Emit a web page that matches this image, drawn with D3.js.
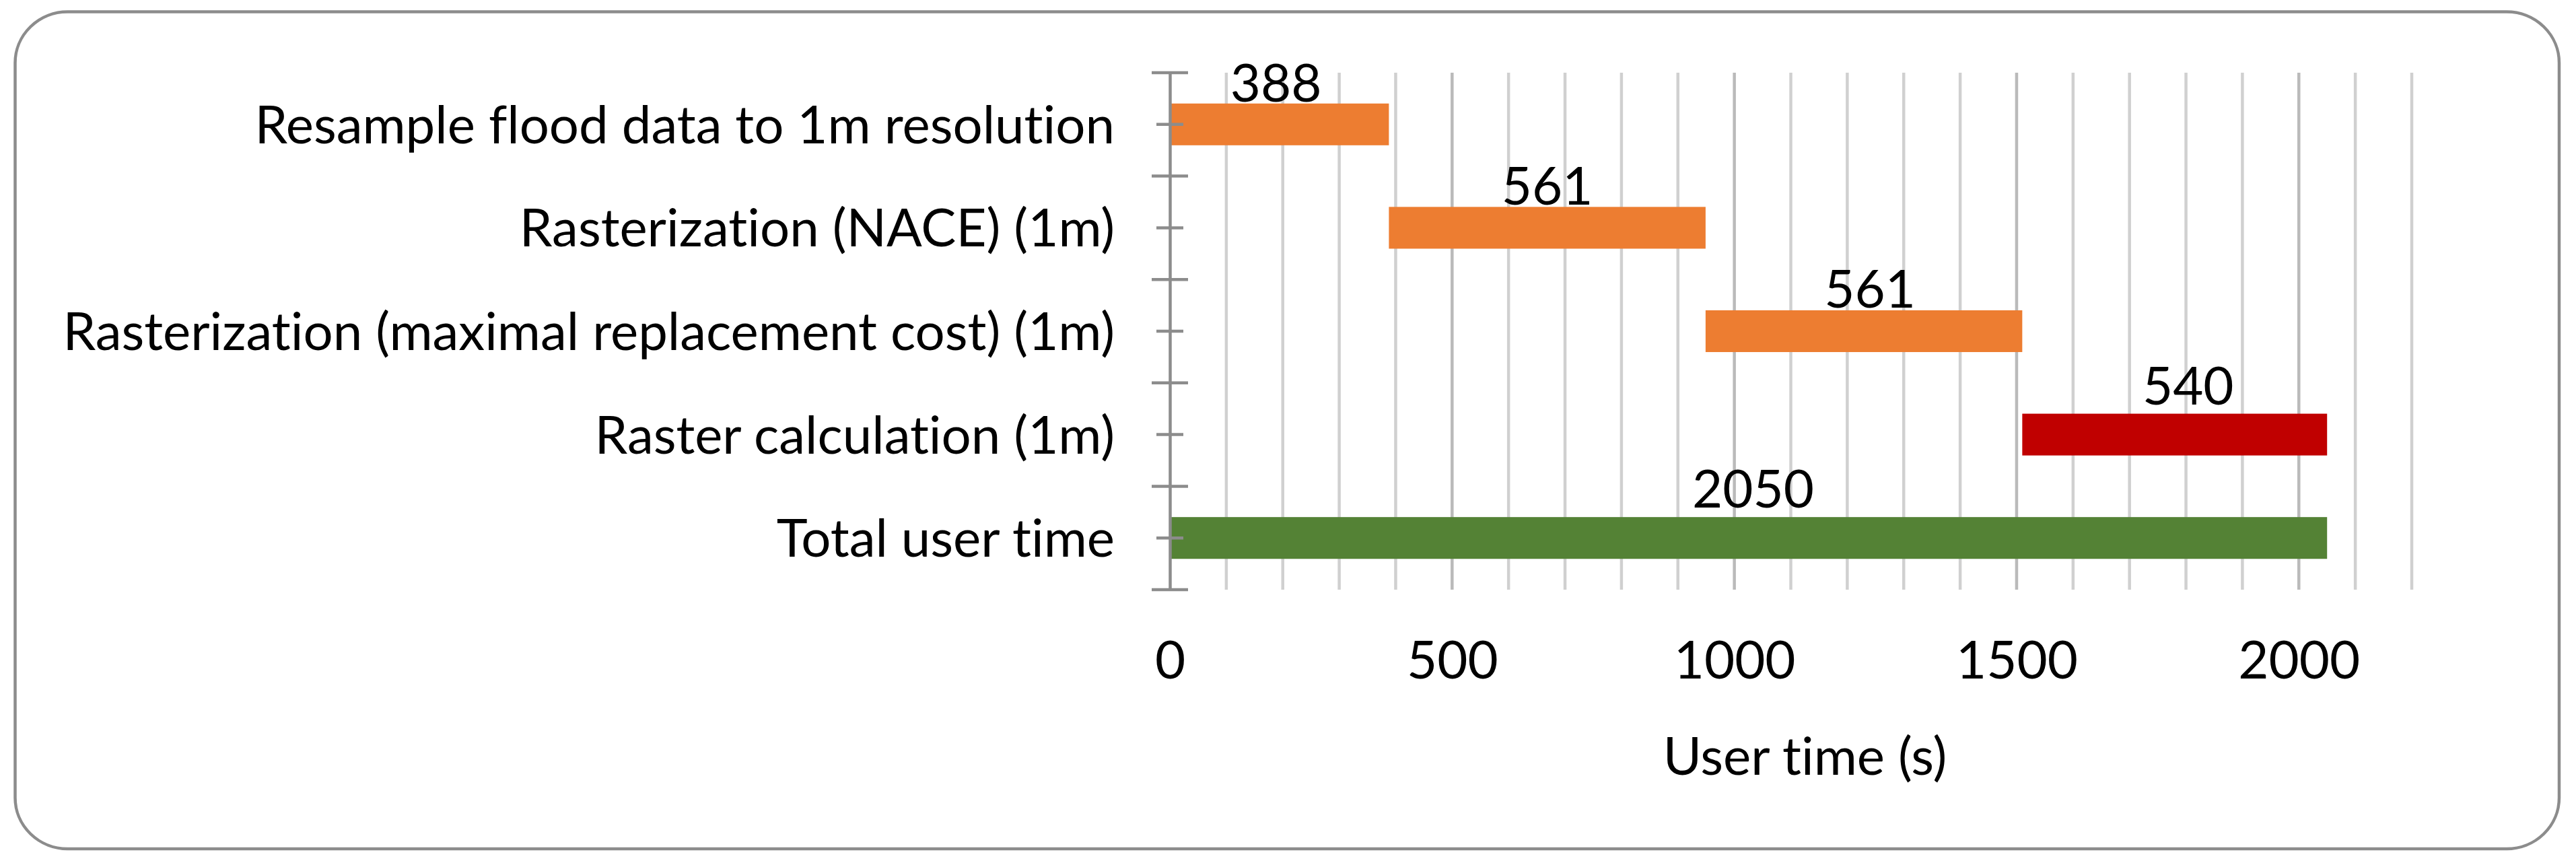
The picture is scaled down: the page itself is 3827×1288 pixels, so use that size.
<!DOCTYPE html>
<html>
<head>
<meta charset="utf-8">
<script src="https://cdn.jsdelivr.net/npm/d3@7"></script>
<style>
  html, body { margin: 0; padding: 0; background: #ffffff; }
  text { font-family: Lato, "Open Sans", sans-serif; fill: #000000; font-variant-ligatures: none; }
</style>
</head>
<body>
<div id="container"></div>
<script>
"use strict";

// Tasks (top to bottom), where each starts and how long it took (s).
const categories = [
  "Resample flood data to 1m resolution",
  "Rasterization (NACE) (1m)",
  "Rasterization (maximal replacement cost) (1m)",
  "Raster calculation (1m)",
  "Total user time",
];
const startTimes = [0, 388, 949, 1510, 0];
const durations = [388, 561, 561, 540, 2050];
const barColors = ["#ED7D31", "#ED7D31", "#ED7D31", "#C00000", "#548235"];
const xTickLabels = [0, 500, 1000, 1500, 2000];
const xMax = 2200;
const gridStep = 100;

// Label placement tweaks, as in the original (dx, lift above bar).
const labelDx = [-5, 0, 9, 20, 7];
const labelLift = [3, 3, 4, 14, 14];

const width = 3827;
const height = 1288;
const fontSize = 78;
const margin = { top: 108, right: 244, bottom: 412, left: 1738 };
const plotBottom = height - margin.bottom;

const svg = d3.create("svg").attr("width", width).attr("height", height);
d3.select("#container").append(() => svg.node());

// Chart area border with rounded corners.
svg
  .append("rect")
  .attr("x", 22.5)
  .attr("y", 17.5)
  .attr("width", 3802 - 22.5)
  .attr("height", 1261 - 17.5)
  .attr("rx", 78)
  .attr("ry", 76)
  .attr("fill", "#ffffff")
  .attr("stroke", "#8c8c8c")
  .attr("stroke-width", 4.5);

const x = d3.scaleLinear().domain([0, xMax]).range([margin.left, width - margin.right]);
const y = d3.scaleBand().domain(categories).range([margin.top, plotBottom]);

// Vertical gridlines every 100 s, a bit darker on the labelled values.
svg
  .append("g")
  .selectAll("line")
  .data(d3.range(gridStep, xMax + 1, gridStep))
  .join("line")
  .attr("x1", (d) => x(d))
  .attr("x2", (d) => x(d))
  .attr("y1", margin.top)
  .attr("y2", plotBottom)
  .attr("stroke", (d) => (xTickLabels.includes(d) ? "#bababa" : "#d0d0d0"))
  .attr("stroke-width", 4.5);

// Bars: a visible segment from start to start + duration (Gantt style).
const barHeight = y.bandwidth() * 0.404;
const rows = categories.map((c, i) => ({
  key: c,
  start: startTimes[i],
  value: durations[i],
  color: barColors[i],
  i,
}));

svg
  .append("g")
  .selectAll("rect")
  .data(rows)
  .join("rect")
  .attr("x", (d) => x(d.start))
  .attr("y", (d) => y(d.key) + (y.bandwidth() - barHeight) / 2)
  .attr("width", (d) => x(d.start + d.value) - x(d.start))
  .attr("height", barHeight)
  .attr("fill", (d) => d.color);

// Value labels above the bars.
svg
  .append("g")
  .selectAll("text")
  .data(rows)
  .join("text")
  .attr("x", (d) => x(d.start + d.value / 2) + labelDx[d.i])
  .attr("y", (d) => y(d.key) + (y.bandwidth() - barHeight) / 2 - labelLift[d.i])
  .attr("text-anchor", "middle")
  .style("font-size", `${fontSize}px`)
  .text((d) => d.value);

// Category axis: line, cross ticks at band edges and at band centres.
const yAxis = svg
  .append("g")
  .attr("transform", `translate(${margin.left}, 0)`)
  .call(d3.axisLeft(y).tickSizeOuter(0).tickPadding(82));

yAxis.select(".domain").attr("stroke", "#8c8c8c").attr("stroke-width", 4.5);
yAxis
  .selectAll(".tick line")
  .attr("x1", -20)
  .attr("x2", 20)
  .attr("stroke", "#8c8c8c")
  .attr("stroke-width", 4.5);
yAxis
  .selectAll(".tick text")
  .attr("x", -82)
  .attr("dy", "0.36em")
  .style("font-size", `${fontSize}px`)
  .style("fill", "#000000");

const edges = categories.map((c) => y(c)).concat([plotBottom]);
yAxis
  .append("g")
  .selectAll("line")
  .data(edges)
  .join("line")
  .attr("x1", -27)
  .attr("x2", 27)
  .attr("y1", (d) => d)
  .attr("y2", (d) => d)
  .attr("stroke", "#8c8c8c")
  .attr("stroke-width", 4.5);

// Value axis: tick labels only.
const xAxis = svg
  .append("g")
  .attr("transform", `translate(0, ${plotBottom})`)
  .call(d3.axisBottom(x).tickValues(xTickLabels).tickFormat(d3.format("d")).tickSize(0));

xAxis.select(".domain").remove();
xAxis
  .selectAll(".tick text")
  .attr("y", 132)
  .attr("dy", 0)
  .style("font-size", `${fontSize}px`)
  .style("fill", "#000000");

// Axis title.
svg
  .append("text")
  .attr("x", (x(0) + x(xMax)) / 2 + 21)
  .attr("y", 1151)
  .attr("text-anchor", "middle")
  .style("font-size", `${fontSize}px`)
  .text("User time (s)");
</script>
</body>
</html>
